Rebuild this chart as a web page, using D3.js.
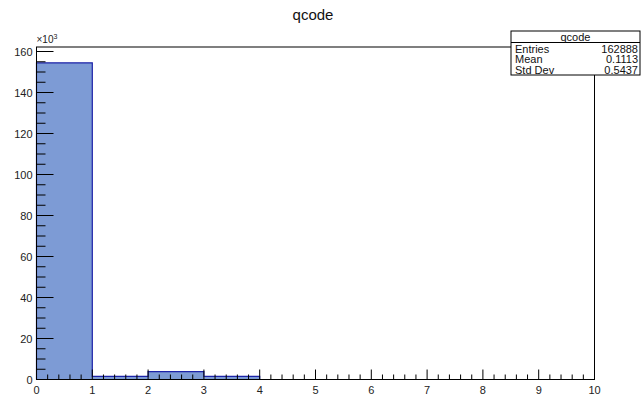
<!DOCTYPE html>
<html><head><meta charset="utf-8">
<script src="https://cdn.jsdelivr.net/npm/d3@7"></script>
<style>body{margin:0;background:#fff}svg{display:block}text{font-family:"Liberation Sans",Arial,sans-serif}</style>
</head><body>
<script>
const binEdges = [0,1,2,3,4,5,6,7,8,9,10];
const counts = [154500, 1550, 3800, 1550, 0, 0, 0, 0, 0, 0];
const xTicks = [0,1,2,3,4,5,6,7,8,9,10];
const yTicks = [0,20,40,60,80,100,120,140,160];
const statsLabels = ["Entries","Mean","Std Dev"];
const statsValues = ["162888","0.1113","0.5437"];
const histName = "qcode";

const W=644,H=396;
const m={l:36.5,r:594.5,t:47,b:379.5};
const svg=d3.select("body").append("svg").attr("width",W).attr("height",H);
const x=d3.scaleLinear().domain([0,10]).range([m.l,m.r]);
const y=d3.scaleLinear().domain([0,162.2]).range([m.b,m.t]);

const bins=counts.map((c,i)=>({x0:binEdges[i],x1:binEdges[i+1],v:c/1000}));
svg.append("g").selectAll("rect").data(bins.filter(d=>d.v>0)).join("rect")
 .attr("x",d=>x(d.x0)).attr("width",d=>x(d.x1)-x(d.x0))
 .attr("y",d=>y(d.v)).attr("height",d=>y(0)-y(d.v)).attr("fill","#7d9bd5");
let p="M"+x(0)+","+y(0);
bins.forEach(d=>{p+="L"+x(d.x0)+","+y(d.v)+"L"+x(d.x1)+","+y(d.v);});
p+="L"+x(10)+","+y(0);
svg.append("path").attr("d",p).attr("fill","none").attr("stroke","#1c22a8").attr("stroke-width",1.2);

svg.append("rect").attr("x",m.l).attr("y",m.t).attr("width",m.r-m.l).attr("height",m.b-m.t)
 .attr("fill","none").attr("stroke","#000").attr("stroke-width",1);

const gx=svg.append("g");
d3.range(0,50.5,1).map(i=>i/5).forEach(v=>{
 const major=Math.abs(v-Math.round(v))<1e-9;
 gx.append("line").attr("x1",x(v)).attr("x2",x(v)).attr("y1",m.b).attr("y2",m.b-(major?10:5)).attr("stroke","#000");
});
xTicks.forEach(v=>gx.append("text").attr("x",x(v)).attr("y",m.b+14).attr("text-anchor","middle")
 .attr("font-size",11).attr("fill","#222").text(v));

const gy=svg.append("g");
d3.range(0,161,5).forEach(v=>{
 const major=v%20===0;
 gy.append("line").attr("x1",m.l).attr("x2",m.l+(major?17:9)).attr("y1",y(v)).attr("y2",y(v)).attr("stroke","#000");
});
yTicks.forEach(v=>gy.append("text").attr("x",m.l-4).attr("y",y(v)+4).attr("text-anchor","end")
 .attr("font-size",11).attr("fill","#222").text(v));
const ex=svg.append("text").attr("x",m.l).attr("y",m.t-4).attr("font-size",10).attr("fill","#222");
ex.append("tspan").text("×10");
ex.append("tspan").attr("dy",-4).attr("font-size",7).text("3");

svg.append("text").attr("x",313).attr("y",20).attr("text-anchor","middle").attr("font-size",15).attr("fill","#111").text(histName);

const bx=511,by=31,bw=129,bh=44;
svg.append("rect").attr("x",bx).attr("y",by).attr("width",bw).attr("height",bh).attr("fill","#fff").attr("stroke","#000");
svg.append("line").attr("x1",bx).attr("x2",bx+bw).attr("y1",by+11.5).attr("y2",by+11.5).attr("stroke","#000");
svg.append("text").attr("x",bx+bw/2).attr("y",by+9.5).attr("text-anchor","middle").attr("font-size",11).attr("fill","#111").text(histName);
statsLabels.forEach((s,i)=>{
 svg.append("text").attr("x",bx+4).attr("y",by+21.5+i*10.5).attr("font-size",11).attr("fill","#111").text(s);
 svg.append("text").attr("x",bx+bw-2).attr("y",by+21.5+i*10.5).attr("text-anchor","end").attr("font-size",11).attr("fill","#111").text(statsValues[i]);
});
</script>
</body></html>
